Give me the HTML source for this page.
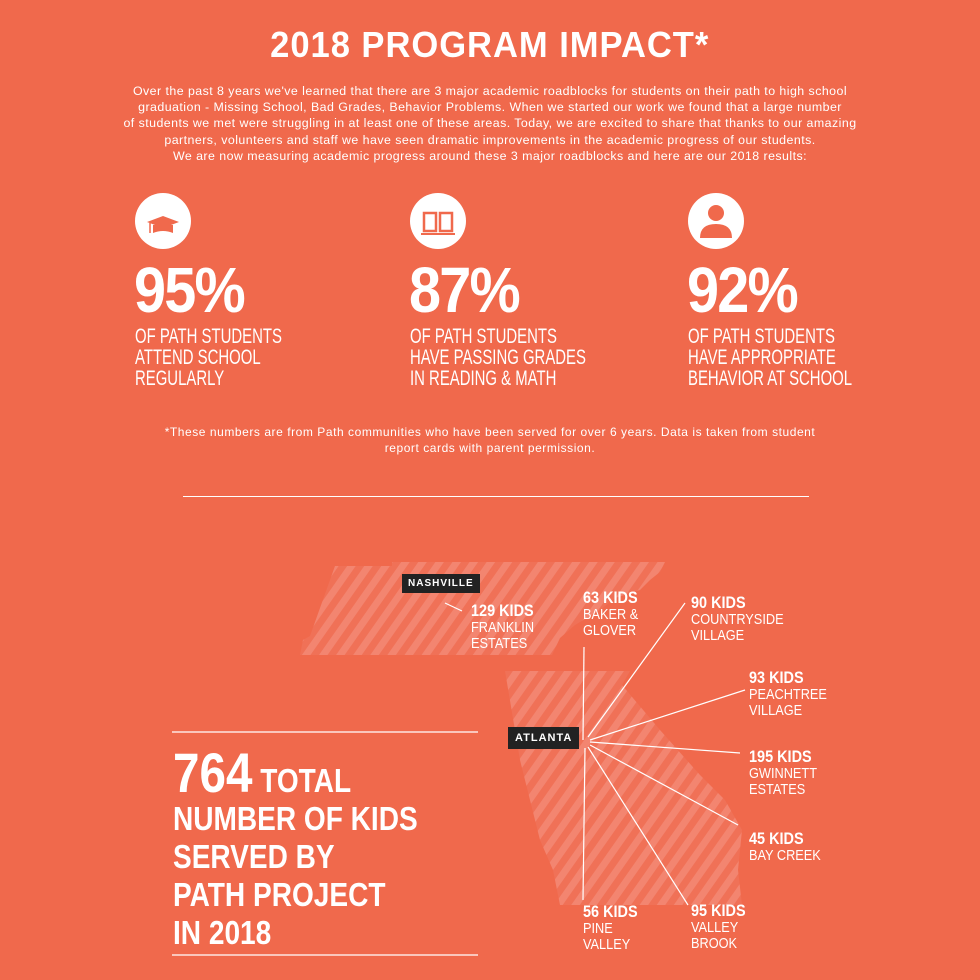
<!DOCTYPE html>
<html><head><meta charset="utf-8"><style>
body{margin:0;width:980px;height:980px;background:#F0694C;color:#fff;font-family:"Liberation Sans",sans-serif;position:relative;overflow:hidden}
.a{position:absolute}
.n{transform-origin:0 0}
h1{position:absolute;top:24px;left:0;width:980px;text-align:center;margin:0;font-size:36px;font-weight:bold;letter-spacing:1px}
h1 span{display:inline-block;transform:scaleX(0.96)}
.intro{top:83px;left:0;width:980px;text-align:center;font-size:12.4px;line-height:16.2px;letter-spacing:.45px;white-space:nowrap}
.circ{width:56px;height:56px;border-radius:50%;background:#fff}
.pct{font-size:64px;font-weight:bold;line-height:64px;letter-spacing:-2px;transform:scaleX(0.9)}
.desc{font-size:21px;line-height:21px;transform:scaleX(0.71);white-space:nowrap}
.lbl{font-size:15px;line-height:16px;transform:scaleX(0.85);white-space:nowrap}
.lbl b{font-size:17px}
.big{font-size:33px;font-weight:bold;line-height:38px;transform:scaleX(0.85);white-space:nowrap}
.tag{background:#222;color:#fff;font-size:10px;font-weight:bold;letter-spacing:1px;padding:4px 6px}
</style></head><body>
<h1><span>2018 PROGRAM IMPACT*</span></h1>
<div class="a intro">Over the past 8 years we've learned that there are 3 major academic roadblocks for students on their path to high school<br>graduation - Missing School, Bad Grades, Behavior Problems. When we started our work we found that a large number<br>of students we met were struggling in at least one of these areas. Today, we are excited to share that thanks to our amazing<br>partners, volunteers and staff we have seen dramatic improvements in the academic progress of our students.<br>We are now measuring academic progress around these 3 major roadblocks and here are our 2018 results:</div>

<div class="a circ" style="left:135px;top:193px"></div>
<div class="a circ" style="left:410px;top:193px"></div>
<div class="a circ" style="left:688px;top:193px"></div>
<svg class="a" style="left:0;top:0" width="980" height="260">
<polygon points="147,222 163,216 179,222 163,228" fill="#F0694C"/><path d="M153,225 v8 q10,-4 20,0 v-8" fill="#F0694C"/><line x1="150" y1="223" x2="150" y2="233" stroke="#F0694C" stroke-width="1.5"/>
<path d="M424,213 h12 v18 h-12z M440,213 h12 v18 h-12z" fill="none" stroke="#F0694C" stroke-width="2.5"/><line x1="421" y1="234" x2="455" y2="234" stroke="#F0694C" stroke-width="2"/>
<circle cx="716" cy="213" r="8" fill="#F0694C"/><path d="M700,238 q0,-14 16,-14 q16,0 16,14z" fill="#F0694C"/>
</svg>
<div class="a n pct" style="left:134px;top:258px">95%</div>
<div class="a n pct" style="left:409px;top:258px">87%</div>
<div class="a n pct" style="left:687px;top:258px">92%</div>
<div class="a n desc" style="left:135px;top:326px">OF PATH STUDENTS<br>ATTEND SCHOOL<br>REGULARLY</div>
<div class="a n desc" style="left:410px;top:326px">OF PATH STUDENTS<br>HAVE PASSING GRADES<br>IN READING &amp; MATH</div>
<div class="a n desc" style="left:688px;top:326px">OF PATH STUDENTS<br>HAVE APPROPRIATE<br>BEHAVIOR AT SCHOOL</div>
<div class="a" style="left:0;top:424px;width:980px;text-align:center;font-size:12px;line-height:16px;letter-spacing:.55px;white-space:nowrap">*These numbers are from Path communities who have been served for over 6 years. Data is taken from student<br>report cards with parent permission.</div>
<div class="a" style="left:183px;top:496px;width:626px;height:1px;background:#fff"></div>

<svg class="a" style="left:0;top:0" width="980" height="980">
<defs><pattern id="st" width="14" height="14" patternUnits="userSpaceOnUse" patternTransform="rotate(35)"><rect width="14" height="14" fill="#F38570"/><rect width="7" height="14" fill="#F07157"/></pattern></defs>
<polygon fill="url(#st)" points="335,566 392,566 392,562 665,562 660,572 650,580 640,590 615,598 600,610 575,625 560,638 552,655 300,655 303,640 310,636"/>
<polygon fill="url(#st)" points="505,671 630,671 622,685 660,730 700,775 725,800 742,830 738,870 742,905 560,905 553,870 540,840 530,800 520,760"/>
<g stroke="#fff" stroke-width="1.2">
<line x1="445" y1="603" x2="462" y2="611"/>
<line x1="583" y1="740" x2="584" y2="647"/>
<line x1="588" y1="737" x2="685" y2="603"/>
<line x1="590" y1="740" x2="745" y2="690"/>
<line x1="590" y1="742" x2="740" y2="753"/>
<line x1="590" y1="745" x2="738" y2="825"/>
<line x1="588" y1="747" x2="688" y2="905"/>
<line x1="585" y1="748" x2="583" y2="900"/>
<line x1="172" y1="732" x2="478" y2="732"/><line x1="172" y1="955" x2="478" y2="955"/>
</g>
</svg>
<div class="a tag" style="left:402px;top:574px">NASHVILLE</div>
<div class="a tag" style="left:508px;top:727px;font-size:11px;padding:5px 7px">ATLANTA</div>
<div class="a n lbl" style="left:471px;top:603px"><b>129 KIDS</b><br>FRANKLIN<br>ESTATES</div>
<div class="a n lbl" style="left:583px;top:590px"><b>63 KIDS</b><br>BAKER &amp;<br>GLOVER</div>
<div class="a n lbl" style="left:691px;top:595px"><b>90 KIDS</b><br>COUNTRYSIDE<br>VILLAGE</div>
<div class="a n lbl" style="left:749px;top:670px"><b>93 KIDS</b><br>PEACHTREE<br>VILLAGE</div>
<div class="a n lbl" style="left:749px;top:749px"><b>195 KIDS</b><br>GWINNETT<br>ESTATES</div>
<div class="a n lbl" style="left:749px;top:831px"><b>45 KIDS</b><br>BAY CREEK</div>
<div class="a n lbl" style="left:691px;top:903px"><b>95 KIDS</b><br>VALLEY<br>BROOK</div>
<div class="a n lbl" style="left:583px;top:904px"><b>56 KIDS</b><br>PINE<br>VALLEY</div>
<div class="a n big" style="left:173px;top:748px"><span style="font-size:56px;line-height:50px">764</span> TOTAL<br>NUMBER OF KIDS<br>SERVED BY<br>PATH PROJECT<br>IN 2018</div>
</body></html>
